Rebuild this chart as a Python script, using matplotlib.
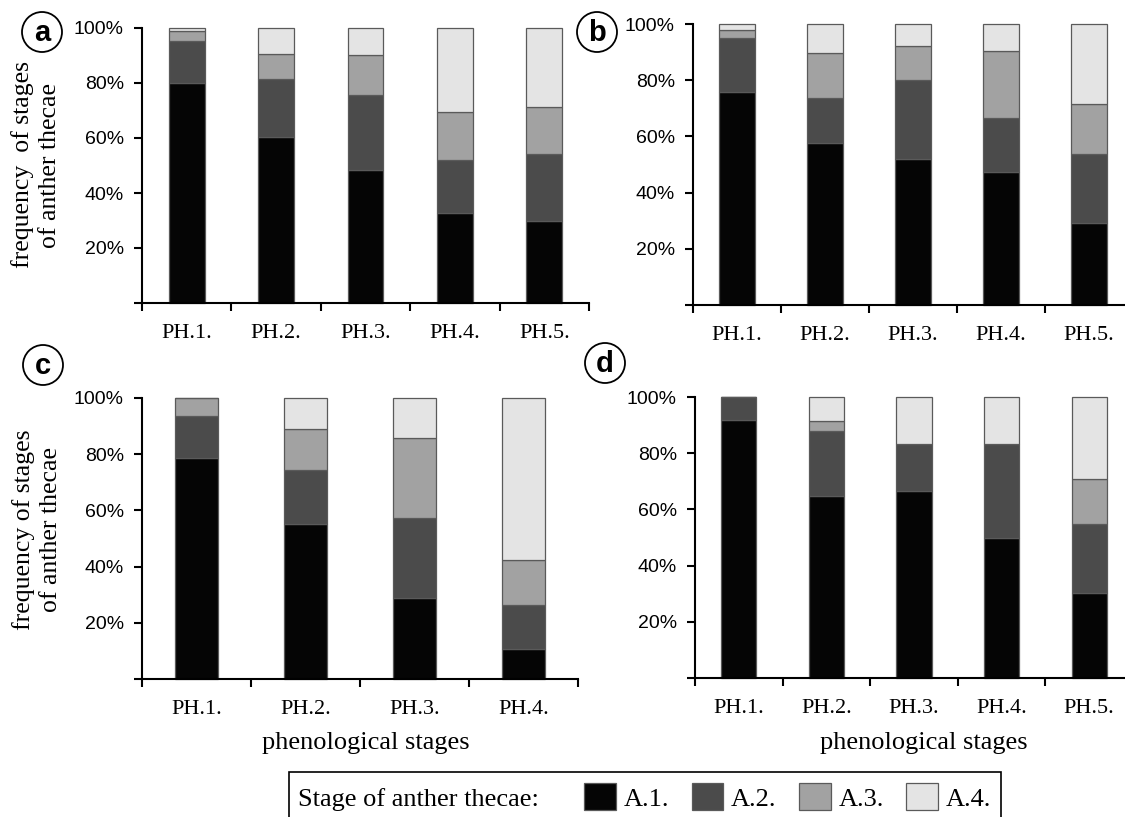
import numpy as np
import matplotlib.pyplot as plt
from matplotlib.patches import Circle, Rectangle, Patch

plt.rcParams['font.family'] = 'Liberation Serif'

# stages of anther thecae and their fill colours
stages = ['A.1.', 'A.2.', 'A.3.', 'A.4.']
colors = ['#050505', '#4b4b4b', '#a2a2a2', '#e4e4e4']
edge = '#5a5a5a'

ph5 = ['PH.1.', 'PH.2.', 'PH.3.', 'PH.4.', 'PH.5.']
ph4 = ['PH.1.', 'PH.2.', 'PH.3.', 'PH.4.']

# percentages
a_A1 = [80.0, 60.4, 48.4, 32.6, 29.7]
a_A2 = [15.4, 21.0, 27.3, 19.5, 24.4]
a_A3 = [3.6, 9.0, 14.3, 17.4, 17.1]
a_A4 = [1.0, 9.6, 10.0, 30.5, 28.8]

b_A1 = [75.9, 57.7, 52.0, 47.5, 29.1]
b_A2 = [19.2, 16.0, 28.0, 19.2, 24.6]
b_A3 = [2.9, 15.9, 12.1, 23.7, 17.7]
b_A4 = [2.0, 10.4, 7.9, 9.6, 28.6]

c_A1 = [78.8, 55.1, 28.7, 10.7]
c_A2 = [14.8, 19.4, 28.6, 15.7]
c_A3 = [6.4, 14.5, 28.5, 15.8]
c_A4 = [0.0, 11.0, 14.2, 57.8]

d_A1 = [91.7, 64.8, 66.5, 50.0, 30.1]
d_A2 = [8.3, 23.0, 16.9, 33.4, 24.7]
d_A3 = [0.0, 3.5, 0.0, 0.0, 16.0]
d_A4 = [0.0, 8.7, 16.6, 16.6, 29.2]

W, H = 1125, 817
fig = plt.figure(figsize=(W / 100, H / 100), dpi=100)


def add_panel(box, cats, series):
    # box in pixels: left, top, right, bottom
    l, t, r, b = box
    ax = fig.add_axes([l / W, 1 - b / H, (r - l) / W, (b - t) / H])
    x = np.arange(len(cats))
    base = np.zeros(len(cats))
    for vals, c in zip(series, colors):
        vals = np.array(vals)
        ax.bar(x, vals, 0.4, bottom=base, color=c, edgecolor=edge,
               linewidth=0.9, clip_on=False, zorder=2)
        base = base + vals
    ax.set_xlim(-0.5, len(cats) - 0.5)
    ax.set_ylim(0, 100)
    for s in ['top', 'right']:
        ax.spines[s].set_visible(False)
    for s in ['left', 'bottom']:
        ax.spines[s].set_linewidth(1.5)
    ax.set_yticks([0, 20, 40, 60, 80, 100])
    ax.set_yticklabels(['', '20%', '40%', '60%', '80%', '100%'],
                       family='Liberation Sans', fontsize=14)
    ax.tick_params(axis='y', length=6, width=1.5, pad=7)
    ax.set_xticks(x)
    ax.set_xticklabels(cats, fontsize=16)
    ax.tick_params(axis='x', which='major', length=0, pad=15)
    ax.set_xticks(np.arange(len(cats) + 1) - 0.5, minor=True)
    ax.tick_params(axis='x', which='minor', length=6, width=1.5)
    return ax


add_panel((142, 28, 589, 303), ph5, [a_A1, a_A2, a_A3, a_A4])
add_panel((693, 24, 1133, 305), ph5, [b_A1, b_A2, b_A3, b_A4])
add_panel((142, 398, 578, 679), ph4, [c_A1, c_A2, c_A3, c_A4])
add_panel((695, 397, 1133, 678), ph5, [d_A1, d_A2, d_A3, d_A4])

# y labels
fig.text(36 / W, 1 - 165 / H, 'frequency  of stages\nof anther thecae',
         rotation=90, ha='center', va='center', fontsize=18.5, linespacing=1.35)
fig.text(37 / W, 1 - 530 / H, 'frequency of stages\nof anther thecae',
         rotation=90, ha='center', va='center', fontsize=18.5, linespacing=1.35)

# x labels
fig.text(366 / W, 1 - 743 / H, 'phenological stages', ha='center', va='center', fontsize=19)
fig.text(924 / W, 1 - 743 / H, 'phenological stages', ha='center', va='center', fontsize=19)

# panel letters
for letter, cx, cy in [('a', 42, 32), ('b', 597, 32), ('c', 43, 365), ('d', 605, 363)]:
    fig.add_artist(Circle((cx / 100, (H - cy) / 100), 0.2, transform=fig.dpi_scale_trans,
                          fill=False, lw=1.3, ec='black'))
    fig.text(cx / W, 1 - (cy + 1) / H, letter, ha='center', va='center',
             fontsize=21, fontweight='bold', family='Liberation Sans')

# legend box
fig.add_artist(Rectangle((289 / W, 1 - 840 / H), (1001 - 289) / W, (840 - 772) / H,
                         transform=fig.transFigure, fill=False, lw=1.2, ec='black',
                         clip_on=False))
fig.text(298 / W, 1 - 800 / H, 'Stage of anther thecae:', ha='left', va='center', fontsize=19)
handles = [Patch(facecolor=c, edgecolor=edge, linewidth=0.9) for c in colors]
fig.legend(handles, stages, loc='center left', bbox_to_anchor=(584 / W, 1 - 797 / H),
           ncol=4, frameon=False, fontsize=19, handlelength=1.2, handleheight=1.15,
           handletextpad=0.3, columnspacing=0.85, borderpad=0, borderaxespad=0)

fig.savefig('out.png', dpi=100)
